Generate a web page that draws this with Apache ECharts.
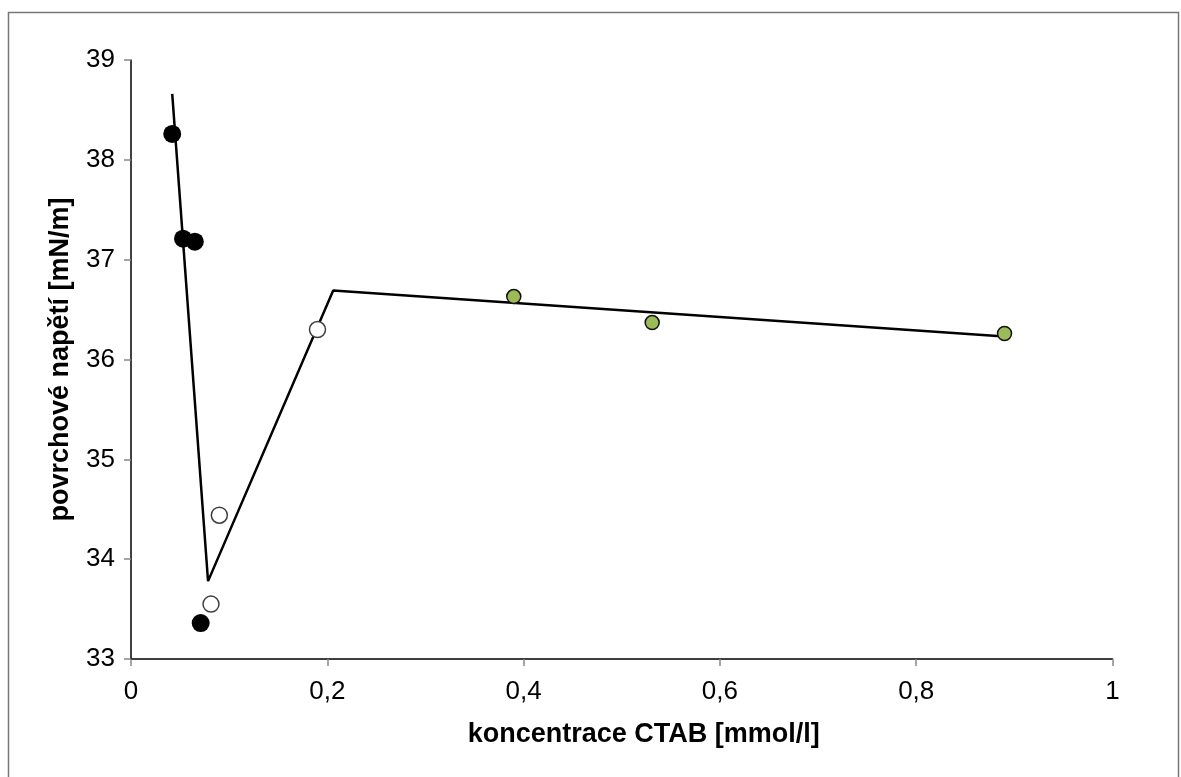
<!DOCTYPE html>
<html><head><meta charset="utf-8">
<script src="https://cdn.jsdelivr.net/npm/echarts@6/dist/echarts.min.js"></script>
<style>html,body{margin:0;padding:0;background:#fff}#c{width:1181px;height:777px}</style>
</head><body><div id="c"></div>
<script>
const blackPoints = [[0.042, 38.26], [0.053, 37.21], [0.065, 37.18], [0.071, 33.36]];
const openPoints = [[0.0815, 33.55], [0.09, 34.44], [0.19, 36.30]];
const greenPoints = [[0.39, 36.63], [0.531, 36.37], [0.89, 36.26]];
const fitLine = [[0.042, 38.66], [0.0785, 33.78], [0.206, 36.69], [0.89, 36.23]];
const xTitle = 'koncentrace CTAB [mmol/l]';
const yTitle = 'povrchové napětí [mN/m]';

const chart = echarts.init(document.getElementById('c'), null, {renderer: 'canvas'});
chart.setOption({
  animation: false,
  backgroundColor: '#fff',
  graphic: [{type: 'rect', shape: {x: 8.5, y: 12.5, width: 1170, height: 780}, style: {fill: 'none', stroke: '#777', lineWidth: 1.5}, silent: true}],
  grid: {left: 131, top: 60, right: 68.5, bottom: 118, containLabel: false},
  xAxis: {
    type: 'value', min: 0, max: 1, interval: 0.2,
    name: xTitle, nameLocation: 'middle', nameGap: 62,
    nameTextStyle: {fontFamily: 'Liberation Sans', fontWeight: 'bold', fontSize: 27, color: '#000', padding: [0, 0, 0, 44]},
    axisLine: {show: true, lineStyle: {color: '#000', width: 1.5}},
    axisTick: {show: true, length: 7, lineStyle: {color: '#888', width: 1.5}},
    axisLabel: {fontFamily: 'Liberation Sans', fontSize: 26, color: '#000', margin: 20,
      formatter: v => String(v).replace('.', ',')},
    splitLine: {show: false}
  },
  yAxis: {
    type: 'value', min: 33, max: 39, interval: 1,
    name: yTitle, nameLocation: 'middle', nameGap: 57, nameRotate: 90,
    nameTextStyle: {fontFamily: 'Liberation Sans', fontWeight: 'bold', fontSize: 27, color: '#000'},
    axisLine: {show: true, lineStyle: {color: '#000', width: 1.5}},
    axisTick: {show: true, length: 7, lineStyle: {color: '#888', width: 1.5}},
    axisLabel: {fontFamily: 'Liberation Sans', fontSize: 26, color: '#000', margin: 16},
    splitLine: {show: false}
  },
  series: [
    {type: 'line', data: fitLine, showSymbol: false, symbol: 'none', lineStyle: {color: '#000', width: 2.5}, z: 2},
    {type: 'scatter', data: blackPoints, symbol: 'circle', symbolSize: 18, itemStyle: {color: '#000', opacity: 1}, z: 3},
    {type: 'scatter', data: openPoints, symbol: 'circle', symbolSize: 16, itemStyle: {color: '#fff', borderColor: '#404040', borderWidth: 1.5, opacity: 1}, z: 3},
    {type: 'scatter', data: greenPoints, symbol: 'circle', symbolSize: 14, itemStyle: {color: '#9BBB59', borderColor: '#111', borderWidth: 1.5, opacity: 1}, z: 3}
  ]
});
</script></body></html>
